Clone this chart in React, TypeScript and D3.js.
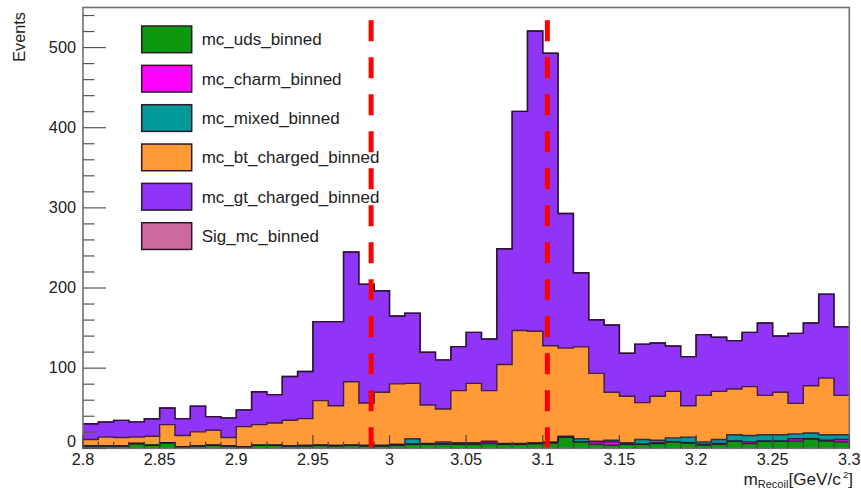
import React from 'react';
import * as d3 from 'd3';

const W = 861;
const H = 492;

// Histogram binning: 50 bins of 0.01 GeV/c^2 from 2.80 to 3.30
const xMin = 2.8;
const xMax = 3.3;
const binWidth = 0.01;
const yMax = 550;

const xTickValues = [2.8, 2.85, 2.9, 2.95, 3.0, 3.05, 3.1, 3.15, 3.2, 3.25, 3.3];
const xTickLabels = ['2.8', '2.85', '2.9', '2.95', '3', '3.05', '3.1', '3.15', '3.2', '3.25', '3.3'];
const yTickValues = [0, 100, 200, 300, 400, 500];
const yTickLabels = ['0', '100', '200', '300', '400', '500'];

// Signal window boundaries (dashed red lines)
const cutValues = [2.988, 3.103];

// Per-bin event counts of each stacked sample (bottom to top)
const mcUds = [3, 3, 3, 6, 4, 7, 2, 3, 4, 3, 2, 4, 4, 3, 3, 4, 3, 4, 3, 3, 4, 5, 5, 5, 5, 5, 6, 5, 5, 6, 7, 14, 8, 5, 4, 5, 5, 6, 8, 7, 4, 5, 9, 6, 9, 9, 9, 12, 9, 8];
const mcCharm = [0, 0, 0, 0, 0, 0, 0, 0, 0, 0, 0, 0, 0, 0, 0, 0, 0, 0, 0, 0, 0, 0, 0, 1, 0, 0, 2, 0, 0, 0, 0, 0, 0, 3, 4, 0, 0, 1, 0, 0, 1, 1, 0, 2, 0, 0, 3, 0, 1, 3];
const mcMixed = [0, 0, 0, 0, 0, 0, 0, 0, 0, 0, 0, 0, 0, 0, 1, 0, 1, 0, 1, 1, 1, 7, 1, 2, 2, 2, 1, 1, 1, 1, 1, 1, 4, 1, 2, 2, 6, 3, 5, 7, 3, 5, 8, 8, 8, 8, 6, 7, 7, 6];
const mcBtCharged = [8, 11, 10.5, 8, 11, 22.5, 14, 17.5, 18.5, 10.5, 25, 25.5, 27.5, 32, 33, 55.5, 49, 79, 52.5, 66, 75.4, 69, 48, 41, 65, 74, 63, 98.5, 141, 139, 120, 110, 114.5, 84.5, 60, 58, 46, 55, 58, 39, 58, 60, 57, 61, 49, 53, 38, 59, 70.5, 49];
const mcGtCharged = [19.7, 18.8, 21.3, 19, 21.9, 20.7, 21, 32, 17, 24.5, 21, 41, 35.5, 54.6, 58.8, 98.5, 105, 162, 148.3, 126.5, 84.6, 87.7, 65.8, 61.3, 54.9, 63.7, 64.4, 144.5, 273.4, 374.7, 365, 168, 92.5, 66.9, 83.8, 53.6, 73, 66.4, 56.7, 61.4, 75.8, 67.5, 60.3, 67.7, 90.3, 70.2, 87.4, 78.3, 104.9, 85.7];
const sigMc = [0, 0, 0, 0, 0, 0, 0, 0, 0, 0, 0, 0, 0, 0, 0, 0, 0, 0, 0, 0, 0, 0, 0, 0, 0, 0, 0, 0, 0, 0, 0, 0, 0, 0, 0, 0, 0, 0, 0, 0, 0, 0, 0, 0, 0, 0, 0, 0, 0, 0];

const seriesKeys = ['mc_uds_binned', 'mc_charm_binned', 'mc_mixed_binned', 'mc_bt_charged_binned', 'mc_gt_charged_binned', 'Sig_mc_binned'];
const seriesValues = [mcUds, mcCharm, mcMixed, mcBtCharged, mcGtCharged, sigMc];
const seriesFills = ['#0a990f', '#ff00ff', '#009a98', '#ff9a36', '#9035f8', '#cb6a9c'];

const FONT = '"Liberation Sans", Arial, Helvetica, sans-serif';

export default function App() {
  const left = 83;
  const right = 849.3;
  const bottom = 448.3;
  const top = 7.5;

  const x = d3.scaleLinear().domain([xMin, xMax]).range([left, right]);
  const y = d3.scaleLinear().domain([0, yMax]).range([bottom, top]);

  const nBins = mcUds.length;
  const edges = d3.range(nBins + 1).map((i) => xMin + i * binWidth);

  // one row per bin edge; the last edge repeats the final bin so the step closes
  const rows = edges.map((_, i) => {
    const j = Math.min(i, nBins - 1);
    const r: Record<string, number> = {};
    seriesKeys.forEach((k, s) => {
      r[k] = seriesValues[s][j];
    });
    return r;
  });

  const stacked = d3.stack<Record<string, number>>().keys(seriesKeys)(rows);

  const area = d3
    .area<d3.SeriesPoint<Record<string, number>>>()
    .x((_, i) => x(edges[i]))
    .y0((d) => y(d[0]))
    .y1((d) => y(d[1]))
    .curve(d3.curveStepAfter);

  const topLine = d3
    .line<d3.SeriesPoint<Record<string, number>>>()
    .x((_, i) => x(edges[i]))
    .y((d) => y(d[1]))
    .curve(d3.curveStepAfter);

  const yMinor = d3.range(0, yMax + 1, 20);
  const xMinor = d3.range(0, Math.round((xMax - xMin) / binWidth) + 1).map((i) => xMin + i * binWidth);

  const yMajorLen = 23;
  const xMajorLen = 13.2;

  const legendX = 141.7;
  const legendY = 26;
  const legendStep = 39.35;

  return (
    <svg width={W} height={H} style={{ position: 'absolute', left: 0, top: 0, background: '#fff' }} fontFamily={FONT}>
      <rect x={0} y={0} width={W} height={H} fill="#fff" />

      {/* stacked histogram fills */}
      <g>
        {stacked.map((s, i) => (
          <path key={`a-${i}`} d={area(s) || ''} fill={seriesFills[i]} stroke="none" />
        ))}
      </g>
      {/* histogram outlines */}
      <g>
        {stacked.map((s, i) => (
          <path
            key={`l-${i}`}
            d={topLine(s) || ''}
            fill="none"
            stroke="#2a0f30"
            strokeOpacity={0.85}
            strokeWidth={1.4}
          />
        ))}
      </g>

      {/* signal window markers */}
      {cutValues.map((c, i) => (
        <line
          key={`cut-${i}`}
          x1={x(c)}
          x2={x(c)}
          y1={y(0)}
          y2={y(542)}
          stroke="#ff0000"
          strokeWidth={5}
          strokeDasharray="21 16"
        />
      ))}

      {/* frame */}
      <rect x={left} y={top} width={right - left} height={bottom - top} fill="none" stroke="#707070" strokeWidth={1.6} />

      {/* y axis ticks */}
      <g stroke="#555" strokeWidth={1.2}>
        {yMinor.map((v) => (
          <line key={`ym-${v}`} x1={left} x2={left + (v % 100 === 0 ? yMajorLen : yMajorLen / 2)} y1={y(v)} y2={y(v)} />
        ))}
      </g>
      <g fontSize={16.3} fill="#222" textAnchor="end">
        {yTickValues.map((v, i) => (
          <text key={`yl-${v}`} x={76} y={v === 0 ? y(v) - 1.5 : y(v) + 5.2}>
            {yTickLabels[i]}
          </text>
        ))}
      </g>

      {/* x axis ticks */}
      <g stroke="#444" strokeWidth={1.2}>
        {xMinor.map((v, i) => (
          <line key={`xm-${i}`} x1={x(v)} x2={x(v)} y1={bottom} y2={bottom - (i % 5 === 0 ? xMajorLen : xMajorLen / 2)} />
        ))}
      </g>
      <g fontSize={16.3} fill="#222" textAnchor="middle">
        {xTickValues.map((v, i) => (
          <text key={`xl-${i}`} x={x(v)} y={465}>
            {xTickLabels[i]}
          </text>
        ))}
      </g>

      {/* axis titles */}
      <text x={25} y={12} transform="rotate(-90 25 12)" textAnchor="end" fontSize={16.3} fill="#222">
        Events
      </text>
      <text x={853} y={484.5} textAnchor="end" fontSize={17.2} fill="#222">
        <tspan>m</tspan>
        <tspan fontSize={11} dy={3}>Recoil</tspan>
        <tspan dy={-3}>[GeV/c</tspan>
        <tspan fontSize={9.5} dx={2} dy={-7}>2</tspan>
        <tspan dy={7}>]</tspan>
      </text>

      {/* legend */}
      <g>
        {seriesKeys.map((k, i) => (
          <g key={`lg-${k}`}>
            <rect
              x={legendX}
              y={legendY + i * legendStep}
              width={50}
              height={26.7}
              fill={seriesFills[i]}
              stroke="#2a1a2a"
              strokeWidth={1.5}
            />
            <text x={201.7} y={legendY + i * legendStep + 19.4} fontSize={17} fill="#222">
              {k}
            </text>
          </g>
        ))}
      </g>
    </svg>
  );
}
